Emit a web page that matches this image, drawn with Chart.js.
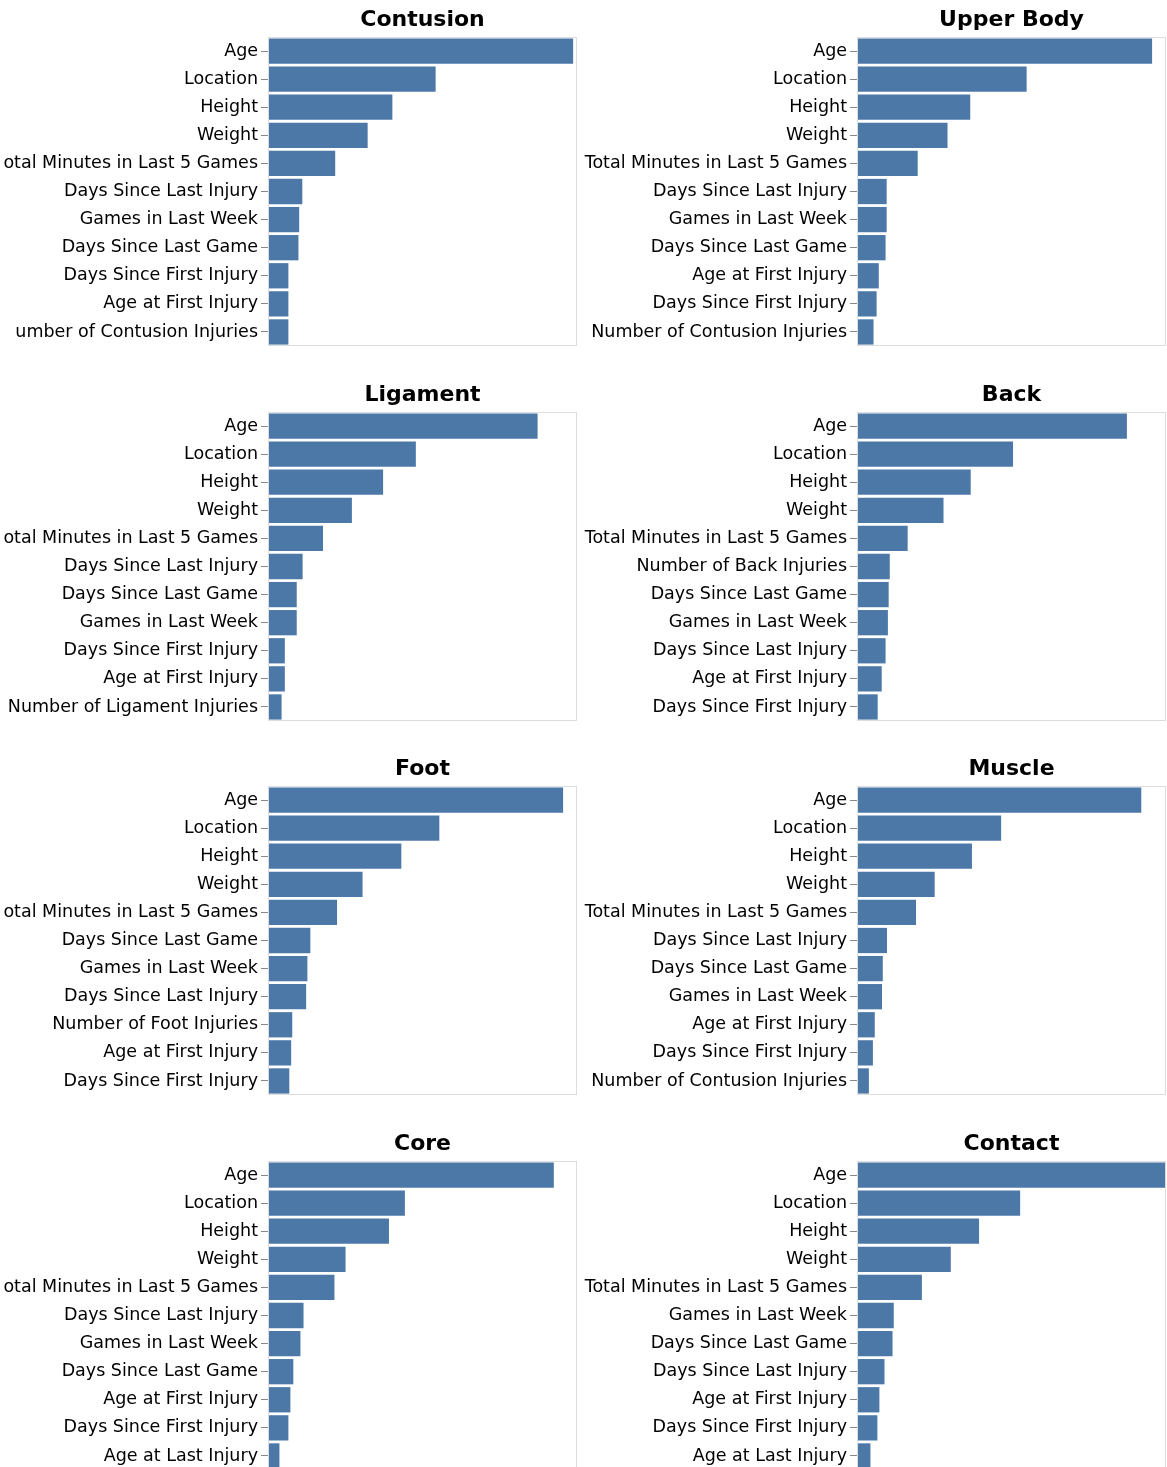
<!DOCTYPE html>
<html>
<head>
<meta charset="utf-8">
<script src="https://cdn.jsdelivr.net/npm/chart.js@4.4.1/dist/chart.umd.min.js"></script>
<style>
    html, body { margin: 0; padding: 0; background: #fff; overflow: hidden; }
    #grid { position: relative; width: 1167px; height: 1467px; }
    #grid canvas { position: absolute; }
</style>
</head>
<body>
<div id="grid"></div>
<script>
// feature importance per injury type (top 11 features each)
const contusionFeatures = ['Age', 'Location', 'Height', 'Weight', 'Total Minutes in Last 5 Games', 'Days Since Last Injury', 'Games in Last Week', 'Days Since Last Game', 'Days Since First Injury', 'Age at First Injury', 'Number of Contusion Injuries'];
const contusionValues = [19.75, 10.85, 8.05, 6.45, 4.35, 2.22, 2.02, 1.97, 1.32, 1.32, 1.32];

const upperBodyFeatures = ['Age', 'Location', 'Height', 'Weight', 'Total Minutes in Last 5 Games', 'Days Since Last Injury', 'Games in Last Week', 'Days Since Last Game', 'Age at First Injury', 'Days Since First Injury', 'Number of Contusion Injuries'];
const upperBodyValues = [19.1, 10.98, 7.33, 5.86, 3.93, 1.92, 1.92, 1.85, 1.41, 1.27, 1.07];

const ligamentFeatures = ['Age', 'Location', 'Height', 'Weight', 'Total Minutes in Last 5 Games', 'Days Since Last Injury', 'Days Since Last Game', 'Games in Last Week', 'Days Since First Injury', 'Age at First Injury', 'Number of Ligament Injuries'];
const ligamentValues = [17.45, 9.57, 7.45, 5.43, 3.56, 2.24, 1.86, 1.86, 1.09, 1.09, 0.88];

const backFeatures = ['Age', 'Location', 'Height', 'Weight', 'Total Minutes in Last 5 Games', 'Number of Back Injuries', 'Days Since Last Game', 'Games in Last Week', 'Days Since Last Injury', 'Age at First Injury', 'Days Since First Injury'];
const backValues = [17.47, 10.1, 7.36, 5.6, 3.28, 2.12, 2.05, 2.0, 1.85, 1.6, 1.34];

const footFeatures = ['Age', 'Location', 'Height', 'Weight', 'Total Minutes in Last 5 Games', 'Days Since Last Game', 'Games in Last Week', 'Days Since Last Injury', 'Number of Foot Injuries', 'Age at First Injury', 'Days Since First Injury'];
const footValues = [19.1, 11.09, 8.63, 6.12, 4.47, 2.74, 2.55, 2.47, 1.57, 1.5, 1.38];

const muscleFeatures = ['Age', 'Location', 'Height', 'Weight', 'Total Minutes in Last 5 Games', 'Days Since Last Injury', 'Days Since Last Game', 'Games in Last Week', 'Age at First Injury', 'Days Since First Injury', 'Number of Contusion Injuries'];
const muscleValues = [18.4, 9.33, 7.44, 5.03, 3.82, 1.94, 1.67, 1.62, 1.15, 1.03, 0.77];

const coreFeatures = ['Age', 'Location', 'Height', 'Weight', 'Total Minutes in Last 5 Games', 'Days Since Last Injury', 'Games in Last Week', 'Days Since Last Game', 'Age at First Injury', 'Days Since First Injury', 'Age at Last Injury'];
const coreValues = [18.5, 8.86, 7.83, 5.02, 4.3, 2.3, 2.1, 1.64, 1.45, 1.32, 0.74];

const contactFeatures = ['Age', 'Location', 'Height', 'Weight', 'Total Minutes in Last 5 Games', 'Games in Last Week', 'Days Since Last Game', 'Days Since Last Injury', 'Age at First Injury', 'Days Since First Injury', 'Age at Last Injury'];
const contactValues = [20.0, 10.56, 7.9, 6.07, 4.2, 2.38, 2.3, 1.78, 1.45, 1.32, 0.87];

const panelTitles = ['Contusion', 'Upper Body', 'Ligament', 'Back', 'Foot', 'Muscle', 'Core', 'Contact'];
const panelFeatures = [contusionFeatures, upperBodyFeatures, ligamentFeatures, backFeatures, footFeatures, muscleFeatures, coreFeatures, contactFeatures];
const panelValues = [contusionValues, upperBodyValues, ligamentValues, backValues, footValues, muscleValues, coreValues, contactValues];

// all facets share the same x domain
const xMax = Math.max(...panelValues.flat());

const FONT = '"DejaVu Sans", Verdana, sans-serif';
const LABEL_SIZE = 17.5;
const LABEL_LIMIT = 255;
const ROW_STEP = 374.67;

// left column labels are cut from the front when wider than the limit
const measureCtx = document.createElement('canvas').getContext('2d');
measureCtx.font = LABEL_SIZE + 'px ' + FONT;
function cutLabel(text) {
    let s = text;
    while (s.length > 1 && measureCtx.measureText(s).width > LABEL_LIMIT) {
        s = s.slice(1);
    }
    return s;
}

// light grey frame around each plot area
const frame = {
    id: 'frame',
    afterDraw(chart) {
        const a = chart.chartArea;
        const ctx = chart.ctx;
        ctx.save();
        ctx.strokeStyle = '#dddddd';
        ctx.lineWidth = 1;
        ctx.strokeRect(Math.round(a.left) + 0.5, Math.round(a.top) + 0.5, Math.round(a.right - a.left) - 1, Math.round(a.bottom - a.top) - 1);
        ctx.restore();
    }
};

const grid = document.getElementById('grid');

panelTitles.forEach((title, i) => {
    let col = i % 2;
    let row = Math.floor(i / 2);
    let canvas = document.createElement('canvas');
    let left = col == 0 ? 0 : 580;
    let width = col == 0 ? 580 : 587;
    let axisWidth = col == 0 ? 268 : 277;
    canvas.width = width;
    canvas.height = 375;
    canvas.style.left = left + 'px';
    canvas.style.top = Math.round(row * ROW_STEP) + 'px';
    grid.appendChild(canvas);

    new Chart(canvas, {
        type: 'bar',
        data: {
            labels: panelFeatures[i],
            datasets: [{
                data: panelValues[i],
                backgroundColor: '#4c78a8',
                borderWidth: 0,
                categoryPercentage: 0.9,
                barPercentage: 1.0
            }]
        },
        options: {
            indexAxis: 'y',
            responsive: false,
            animation: false,
            layout: { padding: { top: 0, right: col == 0 ? 3 : 1, bottom: 29, left: 0 } },
            plugins: {
                legend: { display: false },
                tooltip: { enabled: false },
                title: {
                    display: true,
                    text: title,
                    fullSize: false,
                    color: '#000',
                    font: { family: FONT, size: 22, weight: 'bold', lineHeight: 1.2 },
                    padding: { top: 7, bottom: 3.6 }
                }
            },
            scales: {
                x: { display: false, min: 0, max: xMax },
                y: {
                    afterFit(scale) { scale.width = axisWidth; },
                    border: { display: false },
                    grid: {
                        offset: false,
                        drawOnChartArea: false,
                        drawTicks: true,
                        tickLength: 7,
                        color: '#888888'
                    },
                    ticks: {
                        autoSkip: false,
                        padding: 3,
                        color: '#000',
                        font: { family: FONT, size: LABEL_SIZE },
                        callback: function(value) {
                            let label = this.getLabelForValue(value);
                            return col == 0 ? cutLabel(label) : label;
                        }
                    }
                }
            }
        },
        plugins: [frame]
    });
});
</script>
</body>
</html>
